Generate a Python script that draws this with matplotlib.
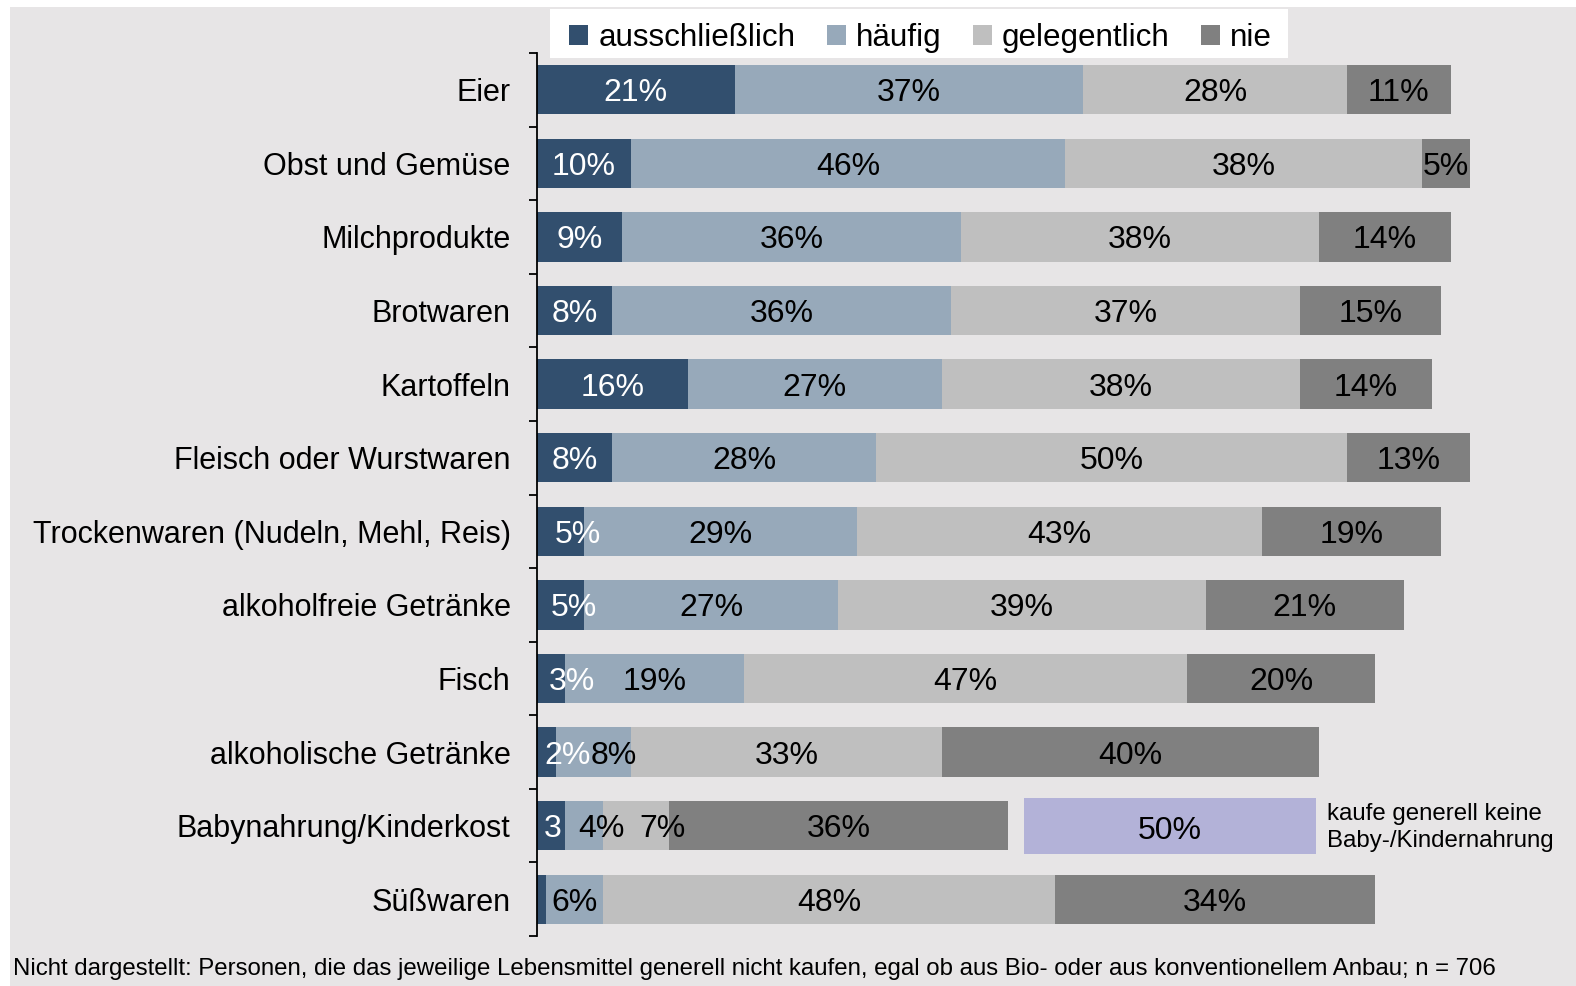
import matplotlib
matplotlib.use("Agg")
import matplotlib.pyplot as plt
from matplotlib.patches import Rectangle

plt.rcParams['font.family'] = ['Liberation Sans', 'DejaVu Sans']

categories = ["Eier", "Obst und Gemüse", "Milchprodukte", "Brotwaren", "Kartoffeln",
              "Fleisch oder Wurstwaren", "Trockenwaren (Nudeln, Mehl, Reis)",
              "alkoholfreie Getränke", "Fisch", "alkoholische Getränke",
              "Babynahrung/Kinderkost", "Süßwaren"]
series = ["ausschließlich", "häufig", "gelegentlich", "nie"]
ausschliesslich = [21, 10, 9, 8, 16, 8, 5, 5, 3, 2, 3, 1]
haeufig = [37, 46, 36, 36, 27, 28, 29, 27, 19, 8, 4, 6]
gelegentlich = [28, 38, 38, 37, 38, 50, 43, 39, 47, 33, 7, 48]
nie = [11, 5, 14, 15, 14, 13, 19, 21, 20, 40, 36, 34]
baby_kein_kauf = 50   # "kaufe generell keine Baby-/Kindernahrung"

colors = ["#324F6E", "#97A9BA", "#BFBFBF", "#808080"]
text_colors = ["white", "black", "black", "black"]

# label x positions that were moved off the segment centre in the original
label_pos = {(6, 0): 4.35, (7, 0): 3.9, (8, 0): 3.7, (9, 0): 3.2, (9, 1): 8.2,
             (10, 0): 1.7, (10, 1): 6.8, (10, 2): 13.3}
label_text = {(10, 0): "3", (11, 0): ""}

fig = plt.figure(figsize=(15.76, 9.86), dpi=100)
fig.patches.append(Rectangle((10 / 1576, 0), 1, 1 - 7 / 986, transform=fig.transFigure,
                             facecolor="#E7E5E6", edgecolor="none", zorder=-1))
# white legend box
fig.patches.append(Rectangle((550 / 1576, 1 - 58 / 986), 738 / 1576, 49 / 986,
                             transform=fig.transFigure, facecolor="white",
                             edgecolor="none", zorder=-0.5))
ax = fig.add_axes([537 / 1576, 50 / 986, 1 - 537 / 1576, 883 / 986])
ax.set_facecolor("none")

data = [ausschliesslich, haeufig, gelegentlich, nie]
y = list(range(len(categories)))
left = [0] * len(categories)
for s, vals in enumerate(data):
    ax.barh(y, vals, left=left, height=0.67, color=colors[s], label=series[s])
    for i, v in enumerate(vals):
        x = label_pos.get((i, s), left[i] + v / 2)
        txt = label_text.get((i, s), f"{v}%")
        ax.text(x, i, txt, ha="center", va="center_baseline", fontsize=23,
                color=text_colors[s])
    left = [l + v for l, v in zip(left, vals)]

# separate box for people who never buy baby food
bi = categories.index("Babynahrung/Kinderkost")
ax.barh(bi, 31.0, left=51.7, height=0.76, color="#B3B2D8")
ax.text(51.7 + 15.5, bi + 0.03, f"{baby_kein_kauf}%", ha="center", va="center_baseline",
        fontsize=23)
ax.text(83.9, bi + 0.02, "kaufe generell keine\nBaby-/Kindernahrung", ha="left",
        va="center", fontsize=17.3, linespacing=1.3)

ax.set_xlim(0, (1576 - 537) / 9.42)
ax.set_ylim(len(categories) - 0.5, -0.5)
ax.set_xticks([])
ax.set_yticks(y)
ax.set_yticklabels(categories, fontsize=22)
ax.set_yticks([i - 0.5 for i in range(len(categories) + 1)], minor=True)
ax.tick_params(axis="y", which="major", length=0, pad=19)
ax.tick_params(axis="y", which="minor", length=6, width=1.3, direction="out")
for side in ["top", "right", "bottom"]:
    ax.spines[side].set_visible(False)
ax.spines["left"].set_linewidth(1.3)

handles, labels = ax.get_legend_handles_labels()
fig.legend(handles[:4], labels[:4], loc="center left",
           bbox_to_anchor=(566 / 1576, 1 - 38 / 986), ncol=4, fontsize=22.6,
           frameon=False, handlelength=0.6, handleheight=0.6, handletextpad=0.33,
           columnspacing=1.0, borderpad=0.1, borderaxespad=0)

fig.text(13 / 1576, 1 - 969 / 986,
         "Nicht dargestellt: Personen, die das jeweilige Lebensmittel generell nicht kaufen, "
         "egal ob aus Bio- oder aus konventionellem Anbau; n = 706",
         ha="left", va="center", fontsize=17.3)

fig.savefig("out.png", dpi=100)
